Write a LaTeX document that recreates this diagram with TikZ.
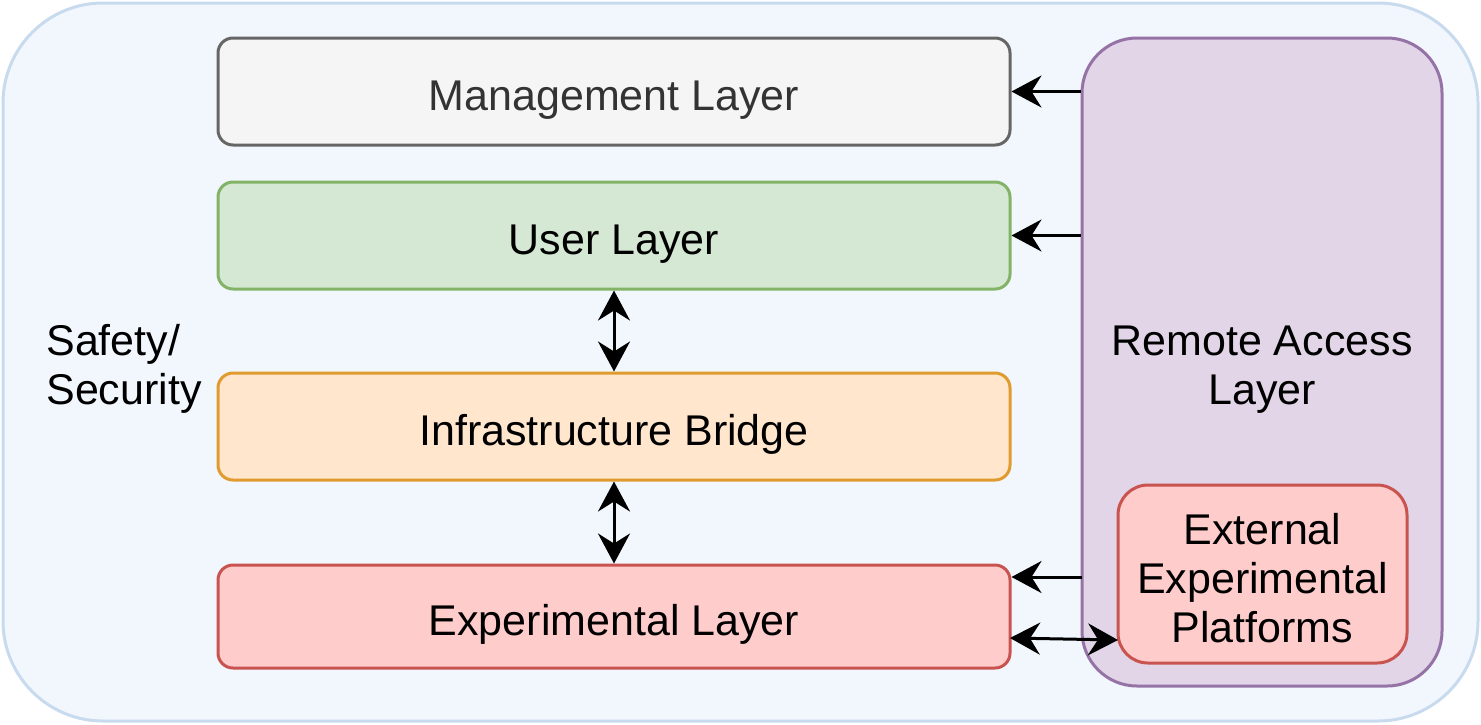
\documentclass[tikz,border=0pt]{standalone}
\usepackage{fontspec}
\setmainfont{Liberation Sans}
\usetikzlibrary{arrows.meta}
\definecolor{outfill}{HTML}{F2F7FE}
\definecolor{outline}{HTML}{C8DAEE}
\definecolor{mgfill}{HTML}{F5F5F5}
\definecolor{mgline}{HTML}{666666}
\definecolor{usfill}{HTML}{D5E8D4}
\definecolor{usline}{HTML}{82B366}
\definecolor{inffill}{HTML}{FFE6CC}
\definecolor{infline}{HTML}{E09B2E}
\definecolor{exfill}{HTML}{FFCCCC}
\definecolor{exline}{HTML}{C9534F}
\definecolor{rafill}{HTML}{E1D5E7}
\definecolor{raline}{HTML}{9673A6}
\definecolor{mgtext}{HTML}{333333}
\tikzset{
  layerbox/.style={rectangle, rounded corners=7.5pt, line width=1.5pt, minimum width=396pt, minimum height=53.5pt, inner sep=0pt, text height=23.5pt, text depth=4.5pt, font=\fontsize{21.5}{24.5}\selectfont},
  lbl/.style={inner sep=0pt, align=center, font=\fontsize{21.5}{24.5}\selectfont},
  arr/.style={line width=1.5pt, -{Stealth[length=15pt, width=16pt, inset=5pt]}},
  darr/.style={line width=1.5pt, {Stealth[length=15pt, width=16pt, inset=5pt]}-{Stealth[length=15pt, width=16pt, inset=5pt]}}
}
\begin{document}
\begin{tikzpicture}[x=0.5pt, y=-0.5pt]
\useasboundingbox (0,0) rectangle (1481,724);
\node[rectangle, rounded corners=50pt, draw=outline, fill=outfill, line width=1.5pt, minimum width=737.5pt, minimum height=359pt, inner sep=0pt] (outer) at (740.5,362) {};
\node[rectangle, rounded corners=27.5pt, draw=raline, fill=rafill, line width=1.5pt, minimum width=180pt, minimum height=324pt, inner sep=0pt] (ra) at (1262,362) {};
\node[lbl] (ratext) at (1262,370) {Remote Access\\Layer};
\node[rectangle, rounded corners=15pt, draw=exline, fill=exfill, line width=1.5pt, minimum width=144.5pt, minimum height=89pt, inner sep=0pt] (ext) at (1262.5,574) {};
\node[lbl] (exttext) at (1262.5,578) {External\\Experimental\\Platforms};
\node[layerbox, draw=mgline, fill=mgfill, text=mgtext] (m) at (614,91.5) {Management Layer};
\node[layerbox, draw=usline, fill=usfill] (u) at (614,235.5) {User Layer};
\node[layerbox, draw=infline, fill=inffill] (i) at (614,426.5) {Infrastructure Bridge};
\node[layerbox, draw=exline, fill=exfill, minimum height=51.5pt] (x) at (614,616.5) {Experimental Layer};
\node[lbl, align=left, anchor=west] (safety) at (46,369) {Safety/\\Security};
\draw[arr] (ra.west |- m.east) -- (m.east);
\draw[arr] (ra.west |- u.east) -- (u.east);
\coordinate (c1) at (1082,577);
\draw[arr] (c1) -- (x.east |- c1);
\coordinate (c2) at (1010,638);
\coordinate (c3) at (1118,640);
\draw[darr] (c2) -- (c3);
\draw[darr] (u.south) -- (i.north);
\draw[darr] (i.south) -- (x.north);
\end{tikzpicture}
\end{document}
